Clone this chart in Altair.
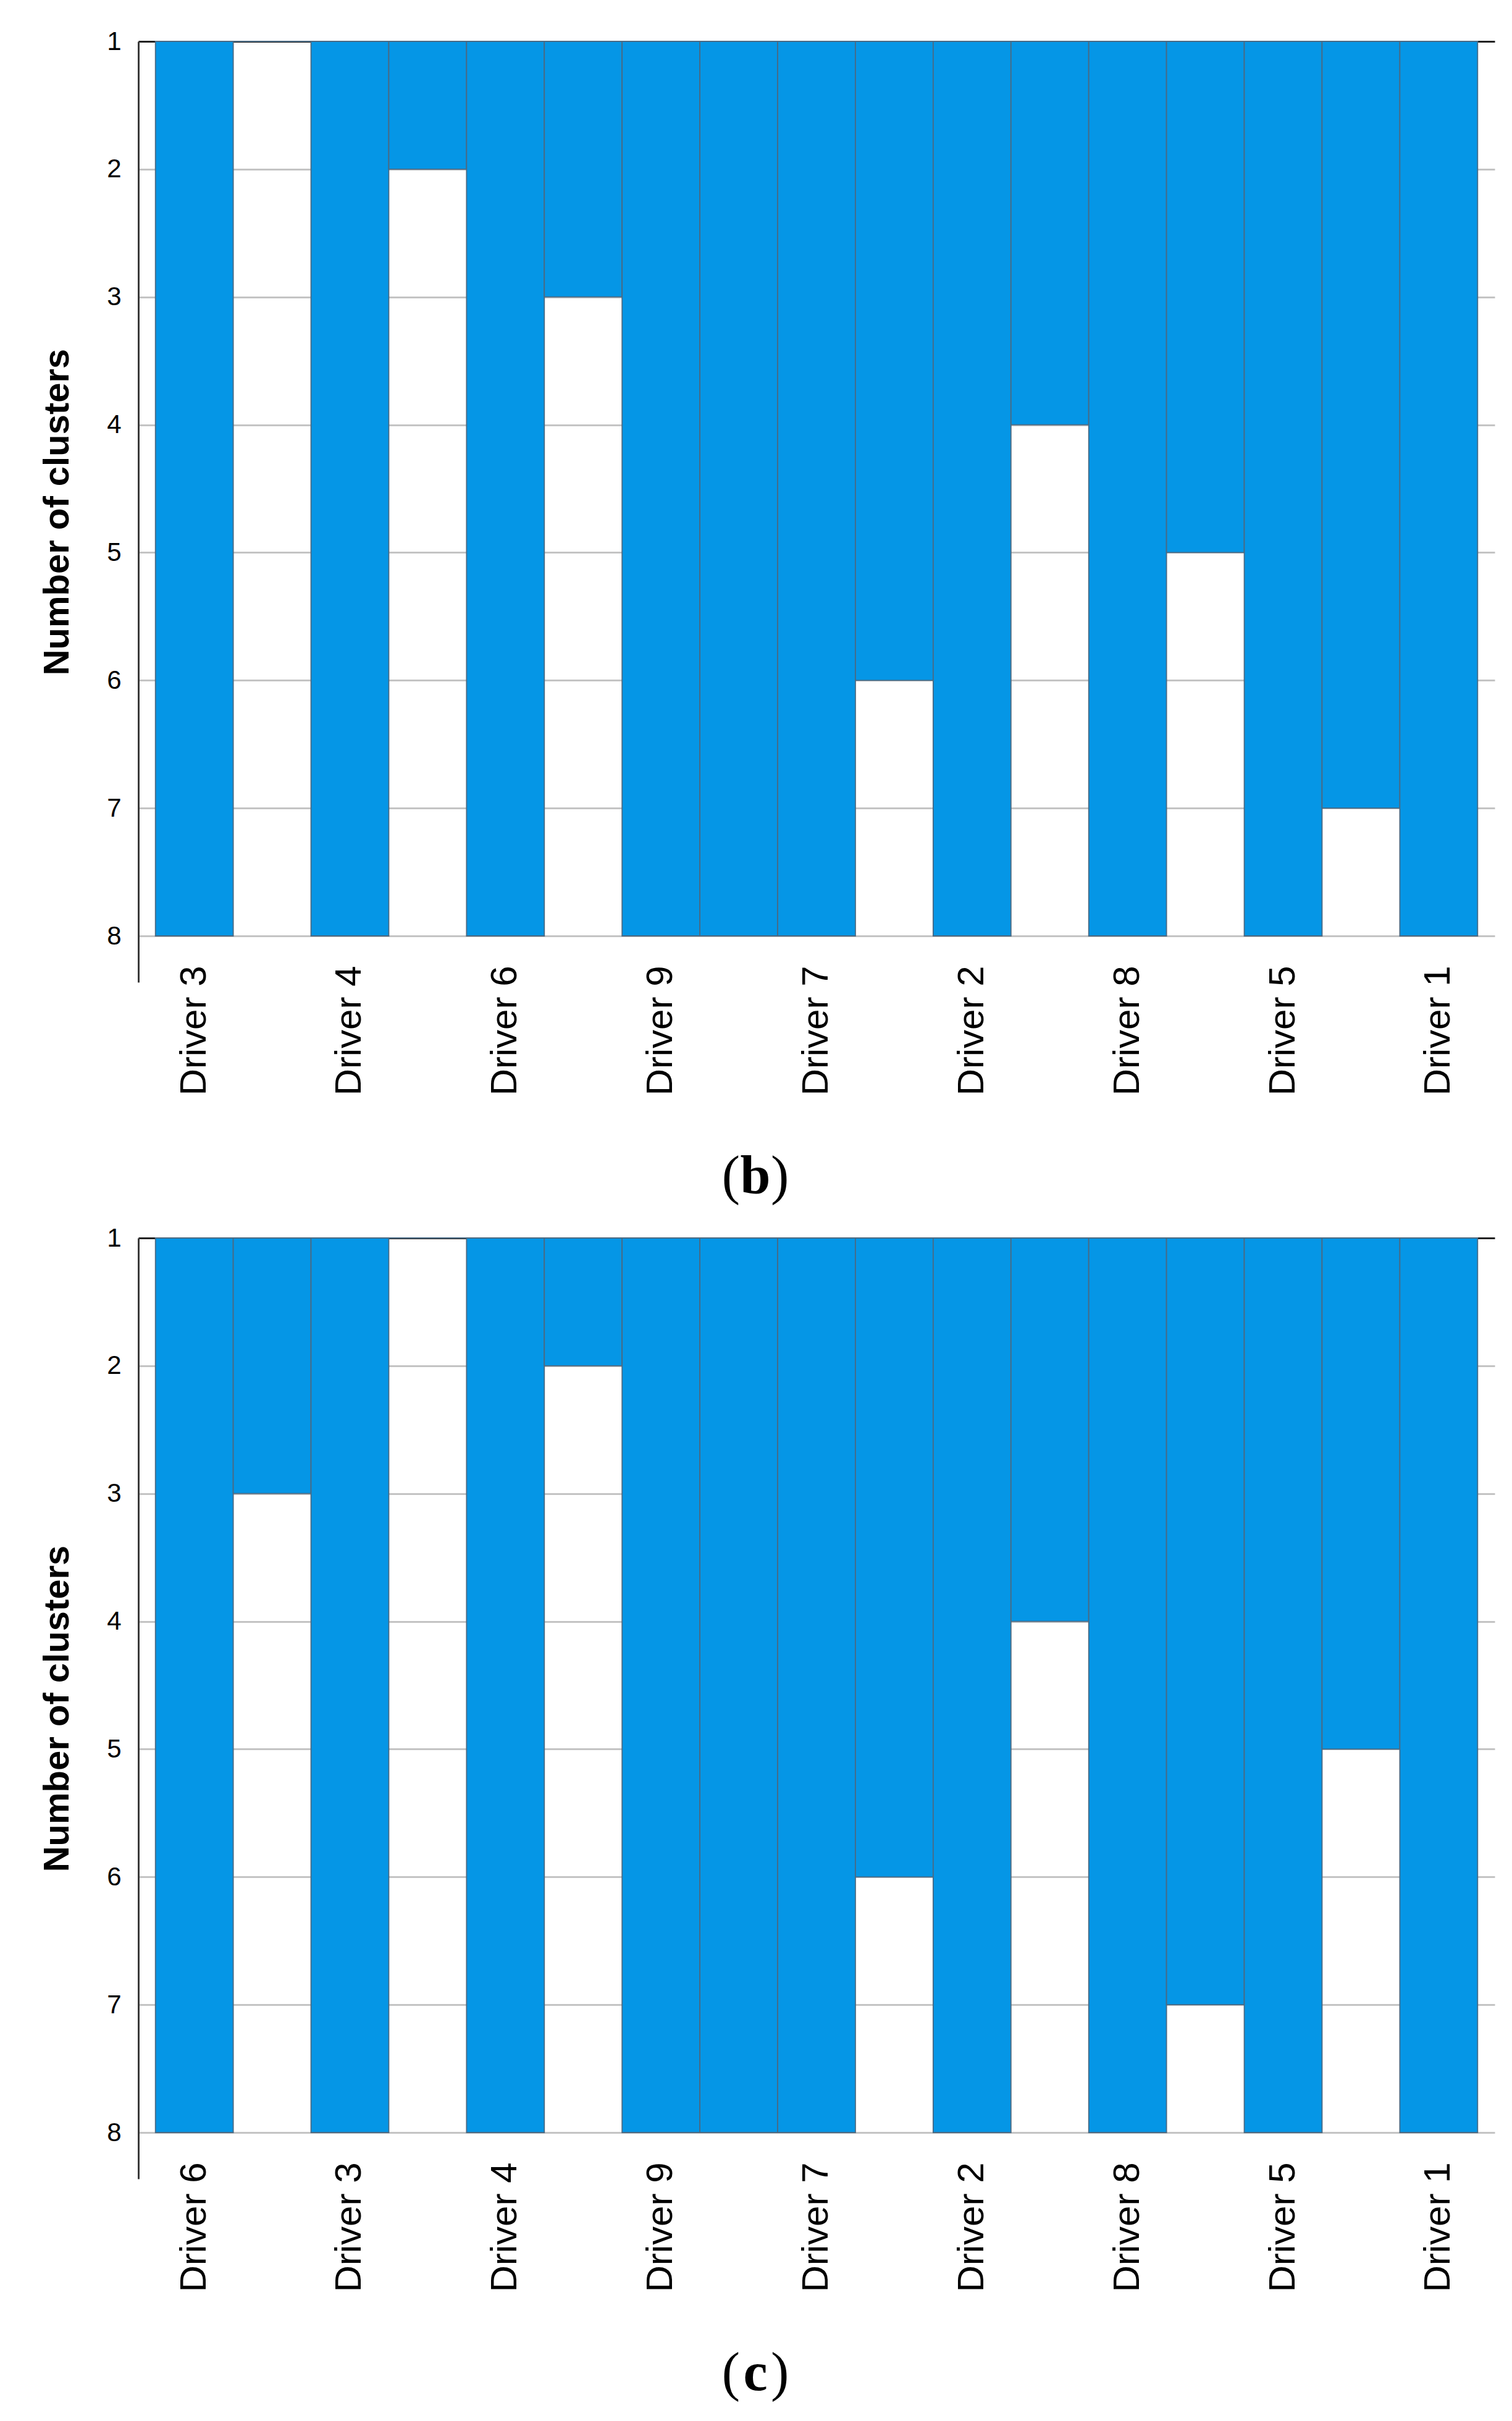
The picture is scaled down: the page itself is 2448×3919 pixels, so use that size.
import altair as alt
import pandas as pd

# ---- data ----
levels = [1, 2, 3, 4, 5, 6, 7, 8]

b_order = ["Driver 3", "Driver 4", "Driver 6", "Driver 9", "Driver 7",
           "Driver 2", "Driver 8", "Driver 5", "Driver 1"]
# number of clusters down to which each gap (between neighbours) is filled
b_joins = [1, 2, 3, 8, 6, 4, 5, 7]

c_order = ["Driver 6", "Driver 3", "Driver 4", "Driver 9", "Driver 7",
           "Driver 2", "Driver 8", "Driver 5", "Driver 1"]
c_joins = [3, 1, 2, 8, 6, 4, 7, 5]

BLUE = "#0596E6"
W, H = 2196, 1523
Y_DOMAIN = [1, 8.3625]


def build_table(order, joins):
    rows = []
    for i, d in enumerate(order):
        rows.append({"col": d, "start": 1, "end": 8})
        if i < len(joins):
            rows.append({"col": f"gap{i + 1}", "start": 1, "end": joins[i]})
    return pd.DataFrame(rows)


def panel(order, joins, letter):
    df = build_table(order, joins)
    col_list = list(df["col"])
    bars = alt.Chart(df).mark_bar(
        color=BLUE, stroke="#4a6a84", strokeWidth=1.8
    ).encode(
        x=alt.X("col:N", sort=col_list,
                scale=alt.Scale(paddingInner=0, paddingOuter=0.22),
                axis=alt.Axis(title=None, labelAngle=-90, labelFontSize=60,
                              labelFont="Liberation Sans", labelColor="black",
                              labelExpr="test(/^Driver/, datum.value) ? datum.value : ''",
                              labelLimit=0,
                              ticks=False, tickSize=0, domain=False, grid=False,
                              labelPadding=-27, labelOverlap=False, labelBound=False)),
        y=alt.Y("start:Q",
                scale=alt.Scale(domain=Y_DOMAIN, reverse=True, nice=False, zero=False),
                axis=alt.Axis(title="Number of clusters", values=levels,
                              titleFont="Liberation Sans", titleFontSize=58,
                              titleFontWeight="bold", titleColor="black",
                              titlePadding=50,
                              labelFont="Liberation Sans", labelFontSize=42,
                              labelColor="black", labelPadding=28,
                              ticks=False, domain=True, domainColor="#3a3a3a",
                              domainWidth=3, grid=True,
                              gridColor={"condition": {"test": "datum.value === 1", "value": "#222222"},
                                         "value": "#c4c4c4"},
                              gridWidth=3)),
        y2="end:Q",
    )
    cap_font = "Liberation Serif"
    cx = 999
    cy = 1865
    lp = alt.Chart(pd.DataFrame({"t": ["("]})).mark_text(
        font=cap_font, fontSize=88, align="right", baseline="alphabetic", color="black"
    ).encode(x=alt.value(cx - 25), y=alt.value(cy), text="t:N")
    mid = alt.Chart(pd.DataFrame({"t": [letter]})).mark_text(
        font=cap_font, fontSize=88, fontWeight="bold", align="center",
        baseline="alphabetic", color="black"
    ).encode(x=alt.value(cx), y=alt.value(cy), text="t:N")
    rp = alt.Chart(pd.DataFrame({"t": [")"]})).mark_text(
        font=cap_font, fontSize=88, align="left", baseline="alphabetic", color="black"
    ).encode(x=alt.value(cx + 25), y=alt.value(cy), text="t:N")
    return alt.layer(bars, lp, mid, rp).properties(width=W, height=H)


chart = alt.vconcat(
    panel(b_order, b_joins, "b"),
    panel(c_order, c_joins, "c"),
    spacing=33,
).properties(
    padding={"left": 56, "top": 38, "right": 10, "bottom": 10},
    background="white",
).configure_view(stroke=None)

chart.save("out.html", embed_options={"renderer": "svg", "actions": False})
